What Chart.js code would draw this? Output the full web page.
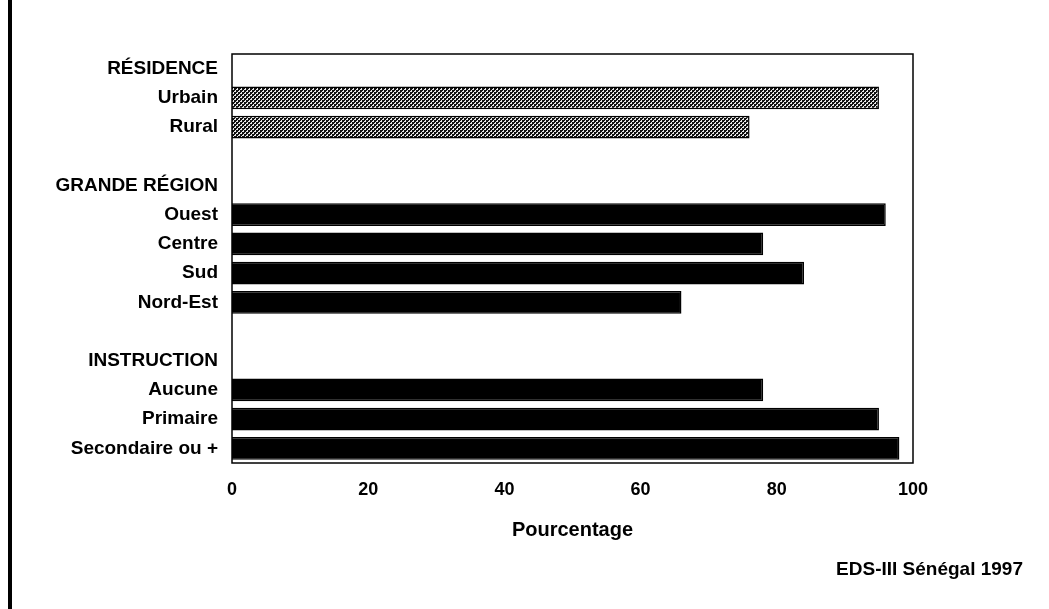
<!DOCTYPE html>
<html>
<head>
<meta charset="utf-8">
<script src="https://cdn.jsdelivr.net/npm/chart.js@4"></script>
<style>
    html, body { margin: 0; padding: 0; background: #fff; }
    #wrap { position: relative; width: 1049px; height: 609px; overflow: hidden; }
    #frame { position: absolute; left: 8px; top: 0; width: 4px; height: 609px; background: #000; }
    #source {
        position: absolute; right: 26px; top: 558px;
        font: bold 19px "Liberation Sans", Arial, sans-serif; color: #000;
    }
</style>
</head>
<body>
<div id="wrap">
    <canvas id="chart" width="1049" height="609"></canvas>
    <div id="frame"></div>
    <div id="source">EDS-III Sénégal 1997</div>
</div>
<script>
// categories (empty strings are spacer rows)
const categories = [
    "RÉSIDENCE", "Urbain", "Rural", "",
    "GRANDE RÉGION", "Ouest", "Centre", "Sud", "Nord-Est", "",
    "INSTRUCTION", "Aucune", "Primaire", "Secondaire ou +"
];
// percentage values, null for headings / spacers
const values = [null, 95, 76, null, null, 96, 78, 84, 66, null, null, 78, 95, 98];
// rows drawn with the stippled fill
const stippled = ["Urbain", "Rural"];
const xTicks = [0, 20, 40, 60, 80, 100];

const FONT = "'Liberation Sans', Arial, sans-serif";

function makeStipple() {
    let c = document.createElement("canvas");
    c.width = 4;
    c.height = 4;
    let g = c.getContext("2d");
    g.fillStyle = "#111111";
    g.fillRect(0, 0, 4, 4);
    g.fillStyle = "#e8e8e8";
    g.fillRect(0, 0, 2, 2);
    g.fillRect(2, 2, 2, 2);
    g.fillStyle = "#111111";
    g.fillRect(0, 0, 1, 1);
    g.fillRect(2, 2, 1, 1);
    return g.createPattern(c, "repeat");
}

const ctx = document.getElementById("chart").getContext("2d");
const stipple = makeStipple();
const fills = categories.map((c) => (stippled.includes(c) ? stipple : "#000000"));

const plotFrame = {
    id: "plotFrame",
    afterDatasetsDraw(chart) {
        const a = chart.chartArea;
        const g = chart.ctx;
        g.save();
        g.strokeStyle = "#000";
        g.lineWidth = 1.5;
        g.strokeRect(a.left, a.top, a.right - a.left, a.bottom - a.top);
        g.restore();
    }
};

new Chart(ctx, {
    type: "bar",
    data: {
        labels: categories,
        datasets: [{
            data: values,
            backgroundColor: fills,
            borderColor: "#000",
            borderWidth: 1.5,
            barPercentage: 0.78,
            categoryPercentage: 1.0
        }]
    },
    options: {
        indexAxis: "y",
        responsive: false,
        animation: false,
        layout: {
            padding: { left: 0, right: 136, top: 54, bottom: 67 }
        },
        plugins: {
            legend: { display: false },
            tooltip: { enabled: false }
        },
        scales: {
            x: {
                min: 0,
                max: 100,
                afterBuildTicks(scale) {
                    scale.ticks = xTicks.map((v) => ({ value: v }));
                },
                afterFit(scale) {
                    scale.height = 79;
                },
                grid: { display: false, drawTicks: false },
                border: { display: false },
                ticks: {
                    color: "#000",
                    padding: 16,
                    font: { family: FONT, size: 18, weight: "bold" }
                },
                title: {
                    display: true,
                    text: "Pourcentage",
                    color: "#000",
                    padding: 0,
                    font: { family: FONT, size: 20, weight: "bold" }
                }
            },
            y: {
                afterFit(scale) {
                    scale.width = 232;
                },
                grid: { display: false, drawTicks: false },
                border: { display: false },
                ticks: {
                    color: "#000",
                    padding: 14,
                    autoSkip: false,
                    font: { family: FONT, size: 19, weight: "bold" }
                }
            }
        }
    },
    plugins: [plotFrame]
});
</script>
</body>
</html>
